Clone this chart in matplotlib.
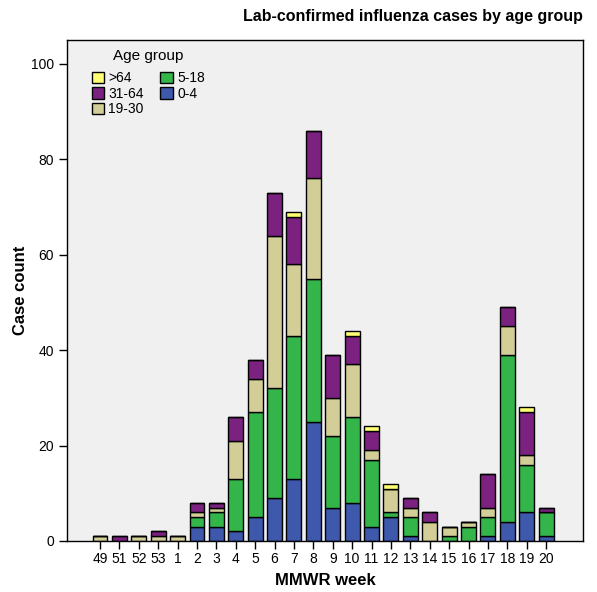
import numpy as np
import matplotlib
matplotlib.use("Agg")
import matplotlib.pyplot as plt

plt.rcParams["font.family"] = ["Liberation Sans", "DejaVu Sans"]

weeks = ["49", "51", "52", "53", "1", "2", "3", "4", "5", "6", "7", "8",
         "9", "10", "11", "12", "13", "14", "15", "16", "17", "18", "19", "20"]

age_0_4 = [0, 0, 0, 0, 0, 3, 3, 2, 5, 9, 13, 25, 7, 8, 3, 5, 1, 0, 0, 0, 1, 4, 6, 1]
age_5_18 = [0, 0, 0, 0, 0, 2, 3, 11, 22, 23, 30, 30, 15, 18, 14, 1, 4, 0, 1, 3, 4, 35, 10, 5]
age_19_30 = [1, 0, 1, 1, 1, 1, 1, 8, 7, 32, 15, 21, 8, 11, 2, 5, 2, 4, 2, 1, 2, 6, 2, 0]
age_31_64 = [0, 1, 0, 1, 0, 2, 1, 5, 4, 9, 10, 10, 9, 6, 4, 0, 2, 2, 0, 0, 7, 4, 9, 1]
age_65 = [0, 0, 0, 0, 0, 0, 0, 0, 0, 0, 1, 0, 0, 1, 1, 1, 0, 0, 0, 0, 0, 0, 1, 0]

series = [
    ("0-4", age_0_4, "#3e58ac"),
    ("5-18", age_5_18, "#33b54a"),
    ("19-30", age_19_30, "#d3ce97"),
    ("31-64", age_31_64, "#7b2180"),
    (">64", age_65, "#ffff73"),
]

fig = plt.figure(figsize=(5.97, 5.92), dpi=100)
ax = fig.add_axes([67 / 597, 51 / 592, 516 / 597, 501 / 592])
ax.set_facecolor("#f0f0f0")

x = np.arange(len(weeks))
bottom = np.zeros(len(weeks))
handles = {}
for name, vals, color in series:
    vals = np.array(vals, dtype=float)
    h = ax.bar(x, vals, bottom=bottom, width=0.77, color=color,
               edgecolor="black", linewidth=1.0, label=name)
    handles[name] = h
    bottom += vals

ax.set_xlim(-1.7, 24.9)
ax.set_ylim(0, 105)
ax.set_yticks([0, 20, 40, 60, 80, 100])
ax.set_xticks(x)
ax.set_xticklabels(weeks)
ax.tick_params(axis="both", direction="out", length=6, width=1, labelsize=10)
ax.tick_params(axis="x", pad=2)
for sp in ax.spines.values():
    sp.set_linewidth(1)

ax.set_xlabel("MMWR week", fontsize=12, fontweight="bold", labelpad=5)
ax.set_ylabel("Case count", fontsize=12, fontweight="bold", labelpad=2)
fig.text(0.977, 0.972, "Lab-confirmed influenza cases by age group",
         fontsize=11.5, fontweight="bold", ha="right", va="center")

order = [">64", "31-64", "19-30", "5-18", "0-4"]
leg = ax.legend([handles[k] for k in order], order, title="Age group",
                ncol=2, loc="upper left", bbox_to_anchor=(0.03, 1.0),
                frameon=False, fontsize=10, title_fontsize=11,
                handlelength=0.9, handleheight=0.9, handletextpad=0.3,
                labelspacing=0.1, columnspacing=1.2, borderpad=0.15)
leg._legend_box.sep = 6

plt.savefig("out.png", dpi=100)
plt.close(fig)
